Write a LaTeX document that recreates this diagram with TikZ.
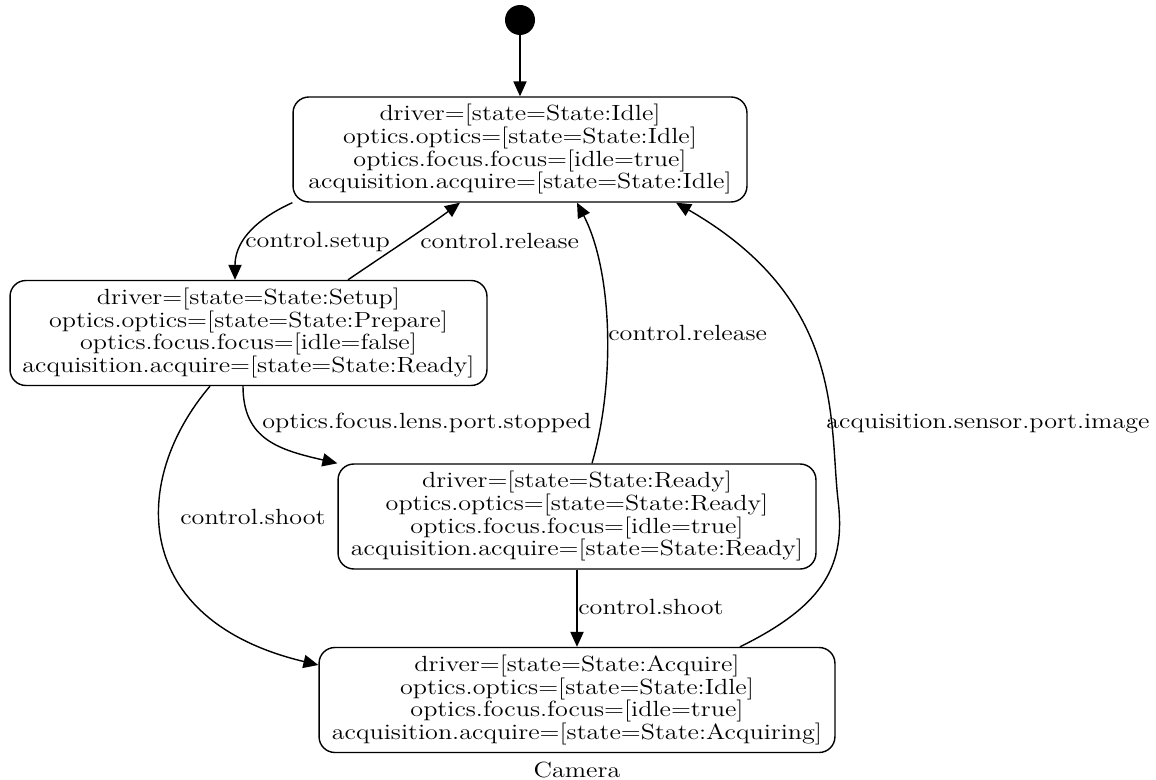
\documentclass[tikz,border=0pt]{standalone}
\usepackage{fontspec}
\setmainfont{Latin Modern Roman}[FakeStretch=1.19]
\usetikzlibrary{arrows.meta}

\tikzset{
    statebox/.style={draw, rounded corners=9pt, align=center, line width=0.8pt,
        minimum height=2.1cm, inner xsep=6pt, font=\fontsize{12.5}{12.9}\selectfont},
    trans/.style={-{Triangle[length=8.5pt,width=7.5pt]}, line width=0.8pt},
    lbl/.style={anchor=west, inner sep=0pt, font=\fontsize{12.5}{14}\selectfont}
}

\begin{document}
\begin{tikzpicture}[x=0.02cm, y=-0.02cm]
    \useasboundingbox (0,0) rectangle (1156,780);
    \node[circle, fill, minimum size=0.6cm, inner sep=0pt] at (520, 20)(init) {};
    \node[statebox, minimum width=9.08cm] at (520, 149.5)(idle)
        {driver=[state=State:Idle]\\optics.optics=[state=State:Idle]\\optics.focus.focus=[idle=true]\\acquisition.acquire=[state=State:Idle]};
    \node[statebox, minimum width=9.54cm] at (248.5, 333)(setup)
        {driver=[state=State:Setup]\\optics.optics=[state=State:Prepare]\\optics.focus.focus=[idle=false]\\acquisition.acquire=[state=State:Ready]};
    \node[statebox, minimum width=9.56cm] at (577, 516.5)(ready)
        {driver=[state=State:Ready]\\optics.optics=[state=State:Ready]\\optics.focus.focus=[idle=true]\\acquisition.acquire=[state=State:Ready]};
    \node[statebox, minimum width=10.32cm] at (577, 700)(acquire)
        {driver=[state=State:Acquire]\\optics.optics=[state=State:Idle]\\optics.focus.focus=[idle=true]\\acquisition.acquire=[state=State:Acquiring]};
    \node[lbl, anchor=center] at (577, 770)(camera) {Camera};

    \draw[trans] (init) -- (idle.north);
    \draw[trans] (idle.south west) .. controls (250,222) and (235,245) .. (setup.north -| 235,0);
    \draw[trans] (setup.north -| 348,0) .. controls (380,258) and (430,225) .. (idle.south -| 460,0);
    \draw[trans] (setup.south -| 243,0) .. controls (243,440) and (280,450) .. (ready.north west);
    \draw[trans] (setup.south -| 210,0) .. controls (130,480) and (130,620) .. (acquire.west |- 0,665);
    \draw[trans] (ready.north -| 592,0) .. controls (616,380) and (612,270) .. (idle.south -| 577,0);
    \draw[trans] (ready.south) -- (acquire.north);
    \draw[trans] (acquire.north -| 740,0) .. controls (825,605) and (846,565) .. (838,500)
        .. controls (829,420) and (845,300) .. (idle.south -| 676,0);

    \node[lbl] at (245, 242)(l1) {control.setup};
    \node[lbl] at (420, 241)(l2) {control.release};
    \node[lbl] at (262, 423)(l3) {optics.focus.lens.port.stopped};
    \node[lbl] at (180, 517)(l4) {control.shoot};
    \node[lbl] at (608, 333)(l5) {control.release};
    \node[lbl] at (578, 607)(l6) {control.shoot};
    \node[lbl] at (826, 424)(l7) {acquisition.sensor.port.image};
\end{tikzpicture}
\end{document}
